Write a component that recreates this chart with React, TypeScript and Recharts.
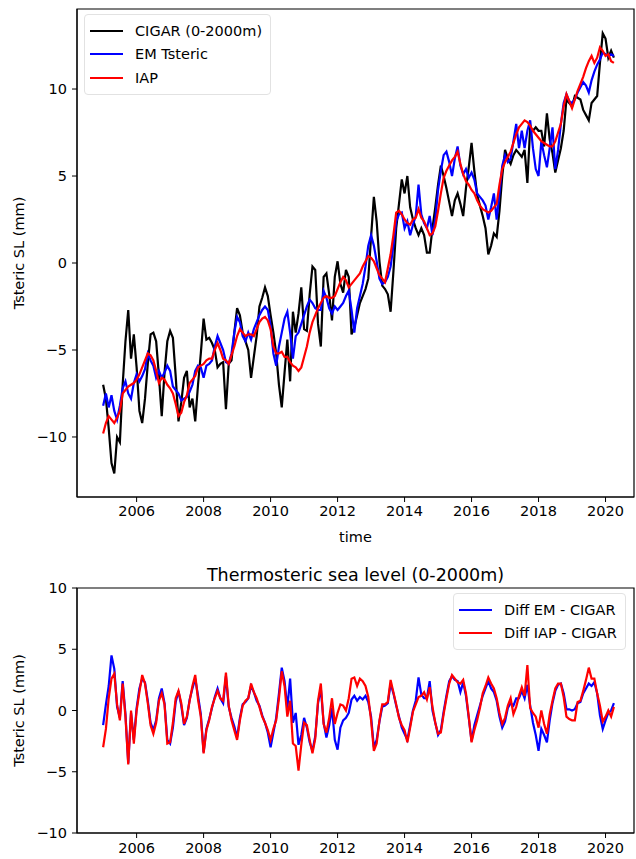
import { LineChart, Line, XAxis, YAxis, ReferenceArea, Legend } from 'recharts'

// monthly values, Jan 2005 .. Apr 2020 (one row per year)
const START_YEAR = 2005

const cigar = [
  -7.0, -7.8, -9.5, -11.5, -12.1, -10.0, -10.3, -7.0, -4.5, -2.7, -5.5, -4.1,
  -6.0, -8.5, -9.2, -7.8, -5.8, -4.1, -4.0, -4.5, -6.5, -8.8, -6.3, -4.5,
  -3.9, -4.3, -6.5, -9.1, -8.0, -6.6, -6.2, -8.3, -7.8, -9.1, -7.0, -5.2,
  -3.2, -4.4, -4.3, -4.6, -5.0, -6.0, -5.8, -5.7, -8.4, -5.8, -5.6, -4.0,
  -2.6, -3.0, -4.0, -4.5, -5.0, -6.6, -5.4, -4.2, -2.5, -2.0, -1.4, -1.9,
  -3.0, -4.0, -5.2, -7.0, -8.3, -6.3, -4.4, -6.8, -2.8, -4.0, -2.9, -1.4,
  -3.8, -3.9, -1.8, -0.2, -0.4, -3.5, -4.8, -0.8, -0.6, -1.8, -3.3, -0.8,
  0.1, -1.2, -1.7, -0.4, -0.8, -4.1, -3.7, -3.0, -2.3, -1.9, -1.5, -0.9,
  1.5, 3.8, 2.4, 0.1, -1.3, -1.5, -1.8, -2.8, -0.5, 2.0, 3.4, 4.8,
  4.0, 5.0, 3.2, 2.5, 2.0, 1.6, 2.0, 1.6, 0.6, 0.6, 2.0, 3.2,
  4.5, 5.6, 5.0, 4.3, 3.5, 2.7, 3.6, 4.0, 3.4, 2.7, 4.3, 5.5,
  6.9, 5.3, 3.9, 3.3, 2.7, 2.0, 0.5, 1.0, 1.7, 1.5, 3.0, 5.0,
  6.5, 6.0, 5.7, 6.2, 6.5, 6.3, 6.1, 6.5, 4.6, 7.8, 7.6, 7.8,
  7.6, 7.6, 6.7, 8.6, 7.1, 6.3, 5.2, 5.9, 6.6, 7.6, 9.4, 9.2,
  9.0, 9.6, 9.5, 9.4, 8.8, 8.5, 8.2, 9.2, 9.4, 9.6, 11.5, 13.2,
  12.9, 11.8, 12.2, 11.8,
]

const emTsteric = [
  -8.2, -7.5, -8.3, -7.6, -8.5, -9.0, -8.2, -7.2, -6.8, -7.5, -7.8, -6.9,
  -6.4, -6.8, -6.5, -6.1, -5.2, -5.6, -5.9, -6.6, -6.2, -6.6, -6.3, -5.9,
  -6.2, -7.1, -7.3, -7.5, -7.9, -7.8, -7.7, -7.4, -7.0, -6.2, -5.9, -6.0,
  -6.6, -5.9, -5.8, -5.6, -4.8, -4.2, -4.6, -5.0, -5.7, -5.8, -5.2, -4.0,
  -3.1, -3.4, -4.2, -4.5, -4.0, -4.4, -3.8, -3.4, -3.0, -2.7, -2.5, -2.7,
  -3.6, -5.2, -5.9, -4.8, -4.0, -3.2, -2.8, -4.0, -5.5, -4.2, -4.0, -3.5,
  -3.0, -2.5, -2.1, -2.3, -2.6, -2.7, -2.7, -1.6, -2.0, -2.6, -2.9, -2.5,
  -2.7, -2.5, -2.3, -1.9, -1.6, -2.7, -4.0, -2.6, -1.9, -1.2, -0.2, 1.0,
  1.6, 1.0, 0.1, -0.9, -1.2, -1.1, -0.8, -0.2, 1.0, 2.4, 2.8, 2.9,
  2.0, 2.4, 1.6, 2.2, 2.7, 4.5, 2.8, 2.3, 2.0, 2.7, 1.6, 2.5,
  4.2, 5.3, 6.2, 6.4, 5.8, 5.0, 6.0, 6.7, 5.6, 5.1, 5.4, 4.9,
  5.2, 4.8, 4.0, 3.8, 3.6, 3.3, 2.5, 3.2, 4.0, 2.5, 4.0, 5.6,
  6.2, 5.8, 6.0, 7.0, 8.0, 6.6, 7.6, 6.6, 7.6, 8.2, 6.6, 5.4,
  5.0, 7.0, 6.2, 5.5, 6.6, 7.8, 5.4, 6.5, 8.0, 9.2, 9.7, 9.3,
  9.2, 9.4, 9.8, 10.1, 10.4, 10.2, 9.8, 10.5, 11.0, 11.4, 11.7, 12.1,
  12.0, 11.9, 12.0, 11.9,
]

const iap = [
  -9.8, -9.2, -8.8, -9.0, -9.2, -8.9, -8.5, -7.5, -7.3, -7.1, -7.0, -6.9,
  -6.7, -6.4, -6.0, -5.6, -5.2, -5.3, -5.6, -6.2, -6.9, -6.6, -6.7, -7.0,
  -7.2, -7.5, -8.1, -8.8, -8.6, -8.0, -7.6, -6.9, -6.7, -6.5, -6.0, -5.9,
  -5.8, -5.6, -5.5, -5.5, -5.0, -4.6, -5.0, -5.5, -5.6, -5.8, -5.3, -4.8,
  -4.2, -3.8, -4.0, -4.2, -4.1, -4.1, -4.2, -3.8, -3.4, -3.2, -3.1, -3.3,
  -3.8, -4.8, -5.2, -5.2, -5.1, -5.4, -5.4, -5.7, -5.9, -6.0, -6.2, -6.0,
  -5.4, -4.8, -4.0, -3.4, -3.0, -2.6, -2.3, -2.0, -1.9, -2.0, -2.0, -1.9,
  -1.5, -1.1, -0.8, -1.0, -1.4, -1.2, -1.0, -0.8, -0.6, -0.2, 0.1, 0.4,
  0.3, 0.1, -0.3, -0.7, -0.9, -1.1, -0.3, 0.5, 1.6, 2.9, 3.0, 2.8,
  2.5, 2.3, 2.2, 2.5, 2.6, 3.1, 2.6, 2.4, 2.0, 1.6, 1.7, 2.1,
  3.0, 4.0, 4.9, 5.3, 5.6, 5.9, 6.1, 6.4, 5.7, 5.1, 4.7, 4.5,
  4.2, 4.0, 3.6, 3.3, 3.1, 3.0, 2.9, 3.0, 3.2, 3.4, 4.5, 5.4,
  5.8, 6.1, 6.4, 6.9, 7.4, 7.8, 8.0, 8.2, 8.1, 7.9, 7.6, 7.4,
  7.2, 7.0, 6.9, 6.8, 6.7, 6.7, 7.0, 7.5, 8.0, 9.0, 9.7, 9.3,
  8.9, 9.4, 9.9, 10.3, 10.7, 11.2, 11.6, 11.9, 11.5, 11.8, 12.4, 12.2,
  11.9, 12.0, 11.6, 11.5,
]

const diffEm = [
  -1.2, 0.5, 2.0, 4.5, 3.4, 0.3, -0.6, 2.4, -0.3, -4.3, -0.2, -2.4,
  0.2, 1.8, 2.6, 2.3, 0.8, -1.0, -1.6, -0.8, 1.0, 1.8, 0.6, -2.4,
  -2.7, -1.4, 0.7, 1.6, 0.4, -1.2, -0.6, 0.9, 1.8, 2.6, 1.2, -0.3,
  -3.4, -1.5, -0.7, 0.2, 1.1, 1.8, 1.0, 0.6, 2.8, 0.3, -0.6, -1.3,
  -2.2, -0.6, 0.5, 0.7, 1.0, 2.0, 1.5, 0.8, 0.4, -0.4, -1.0, -1.8,
  -3.0, -1.8, -0.6, 1.4, 3.5, 2.4, 0.2, 2.6, -1.0, -0.2, -2.8, -2.0,
  -0.6, -1.4, -2.6, -3.3, -2.1, 0.6, 1.8, -1.0, -2.2, -1.2, 0.2, -2.4,
  -3.2, -1.4, -0.8, -0.6, -0.2, 0.9, 1.2, 0.8, 1.1, 0.9, 1.2, 0.7,
  -0.5, -3.0, -2.4, -0.9, 0.3, 0.4, 0.6, 2.2, 1.4, 0.4, -0.5, -1.4,
  -1.9, -2.4, -1.2, 0.0, 0.8, 2.7, 1.3, 1.0, 1.0, 2.4, 0.0, -1.0,
  -2.0, -1.6, -0.1, 1.2, 2.4, 2.8, 2.5, 2.4, 1.5, 2.3, 1.2, -0.6,
  -2.5, -1.2, -0.4, 0.4, 1.2, 1.8, 2.4, 1.8, 1.5, 0.8, -0.5, -1.4,
  -0.9, 0.2, 0.6, 0.4, 1.0, 1.0, 1.6, 1.0, 2.1, 0.4, -1.0, -2.0,
  -3.3, -1.5, -2.0, -2.6, -0.8, 0.6, 1.6, 2.1, 2.2, 1.4, 0.1, 0.1,
  0.0, 0.1, 0.6, 0.7, 1.4, 1.8, 2.2, 2.0, 2.3, 1.4, -0.4, -1.5,
  -0.8, -0.2, 0.0, 0.6,
]

const diffIap = [
  -3.0, -1.5, 1.0, 2.6, 3.0, 0.5, -0.8, 2.2, -0.5, -4.4, 0.0, -2.7,
  0.0, 1.5, 2.9, 2.2, 0.6, -1.2, -1.9, -1.0, 0.8, 1.4, 0.5, -2.7,
  -2.6, -1.0, 1.0, 1.6, 0.6, -1.1, -0.5, 0.8, 2.0, 2.9, 0.9, -0.5,
  -3.5, -1.6, -0.8, 0.3, 1.0, 1.6, 1.0, 0.8, 3.1, 0.4, -0.8, -1.6,
  -2.4, -0.8, 0.4, 0.8, 1.0, 2.2, 1.5, 1.0, 0.3, -0.5, -1.0, -1.6,
  -2.4, -1.5, -0.8, 1.0, 3.2, 2.0, -0.5, 0.8, -2.7, -2.9, -4.9, -2.8,
  -1.0, -1.2, -2.4, -3.5, -2.3, 0.8, 2.2, -1.1, -1.8, -0.6, 1.0, -1.1,
  -0.2, 0.5, 0.4, 0.0, 1.0, 2.6, 2.7, 2.0, 2.6, 2.4, 2.0, 1.1,
  -0.8, -3.3, -2.7, -0.8, 0.5, 0.5, 0.7, 2.5, 1.5, 0.5, -0.6, -1.2,
  -1.6, -2.6, -1.4, -0.1, 0.5, 1.1, 1.2, 1.5, 0.9, 1.9, 0.3, -1.0,
  -1.9, -1.8, -0.3, 1.0, 2.2, 2.9, 2.6, 2.3, 2.2, 2.5, 1.4, -0.5,
  -2.6, -1.6, -0.8, 0.2, 1.4, 2.0, 2.7, 2.2, 1.8, 1.0, -0.2, -1.1,
  -0.6, 0.4, 1.0, -0.3, 0.3, 1.2, 1.9, 1.2, 3.7, 0.2, -0.2, -0.5,
  -1.4, 0.0, -1.1, -1.9, -0.3, 0.8, 1.8, 2.2, 2.2, 1.1, -0.5, -0.7,
  -0.8, -0.8, 0.7, 0.8, 1.6, 2.5, 3.5, 2.6, 2.6, 1.4, 0.4, -0.9,
  -0.5, 0.0, -0.5, 0.3,
]

const yearTicks = [2006, 2008, 2010, 2012, 2014, 2016, 2018, 2020]
const mmTicks = [-10, -5, 0, 5, 10]

const X_DOMAIN: [number, number] = [2004.22, 2020.85]
const TOP_Y: [number, number] = [-13.45, 14.6]
const BOTTOM_Y: [number, number] = [-10, 10]

const FONT = 'DejaVu Sans, sans-serif'
const FS = 14.5

const time = cigar.map((_, i) => START_YEAR + i / 12)
const topData = time.map((t, i) => ({ t, cigar: cigar[i], em: emTsteric[i], iap: iap[i] }))
const bottomData = time.map((t, i) => ({ t, diffEm: diffEm[i], diffIap: diffIap[i] }))

const fmtNum = (v: number) => (v < 0 ? `\u2212${Math.abs(v)}` : `${v}`)
const tickStyle = { fill: '#000', fontSize: FS, fontFamily: FONT }

const LegendBox = ({ payload }: any) => (
  <div
    style={{
      background: 'rgba(255,255,255,0.85)',
      border: '1px solid #e2e2e2',
      borderRadius: 4,
      padding: '4px 8px 4px 5px',
      fontFamily: FONT,
      fontSize: FS,
      color: '#000',
      whiteSpace: 'nowrap',
    }}
  >
    {(payload || []).map((p: any) => (
      <div key={p.value} style={{ display: 'flex', alignItems: 'center', height: 23.5 }}>
        <span style={{ display: 'inline-block', width: 33, height: 2.2, background: p.color, marginRight: 12 }} />
        <span>{p.value}</span>
      </div>
    ))}
  </div>
)

const TopPanel = () => (
  <LineChart width={636} height={550} data={topData} margin={{ top: 9, right: 2, bottom: 0, left: 0 }}>
    <XAxis
      dataKey="t"
      type="number"
      domain={X_DOMAIN}
      ticks={yearTicks}
      interval={0}
      allowDataOverflow
      height={53}
      tickSize={5}
      tickMargin={4}
      stroke="#000"
      tick={tickStyle}
      label={{ value: 'time', position: 'insideBottom', offset: 8, fill: '#000', fontSize: FS, fontFamily: FONT }}
    />
    <YAxis
      type="number"
      domain={TOP_Y}
      ticks={mmTicks}
      interval={0}
      allowDataOverflow
      width={77}
      tickSize={5}
      tickMargin={5}
      stroke="#000"
      tick={tickStyle}
      tickFormatter={fmtNum}
      label={{ value: 'Tsteric SL (mm)', angle: -90, position: 'center', dx: -20, fill: '#000', fontSize: FS, fontFamily: FONT }}
    />
    <ReferenceArea x1={X_DOMAIN[0]} x2={X_DOMAIN[1]} y1={TOP_Y[0]} y2={TOP_Y[1]} fill="none" stroke="#000" strokeWidth={1.2} ifOverflow="visible" />
    <Legend
      layout="vertical"
      align="center"
      verticalAlign="middle"
      wrapperStyle={{ left: 84, top: 14, width: 'auto', height: 'auto' }}
      content={<LegendBox />}
    />
    <Line dataKey="cigar" name="CIGAR (0-2000m)" stroke="#000000" strokeWidth={2.2} dot={false} activeDot={false} isAnimationActive={false} />
    <Line dataKey="em" name="EM Tsteric" stroke="#0000ff" strokeWidth={2.2} dot={false} activeDot={false} isAnimationActive={false} />
    <Line dataKey="iap" name="IAP" stroke="#ff0000" strokeWidth={2.2} dot={false} activeDot={false} isAnimationActive={false} />
  </LineChart>
)

const BottomPanel = () => (
  <LineChart width={636} height={299} data={bottomData} margin={{ top: 28, right: 2, bottom: 0, left: 0 }}>
    <XAxis
      dataKey="t"
      type="number"
      domain={X_DOMAIN}
      ticks={yearTicks}
      interval={0}
      allowDataOverflow
      height={26}
      tickSize={5}
      tickMargin={5}
      stroke="#000"
      tick={tickStyle}
    />
    <YAxis
      type="number"
      domain={BOTTOM_Y}
      ticks={mmTicks}
      interval={0}
      allowDataOverflow
      width={77}
      tickSize={5}
      tickMargin={5}
      stroke="#000"
      tick={tickStyle}
      tickFormatter={fmtNum}
      label={{ value: 'Tsteric SL (mm)', angle: -90, position: 'center', dx: -20, fill: '#000', fontSize: FS, fontFamily: FONT }}
    />
    <ReferenceArea x1={X_DOMAIN[0]} x2={X_DOMAIN[1]} y1={BOTTOM_Y[0]} y2={BOTTOM_Y[1]} fill="none" stroke="#000" strokeWidth={1.2} ifOverflow="visible" />
    <Legend
      layout="vertical"
      align="center"
      verticalAlign="middle"
      wrapperStyle={{ left: 453, top: 33, width: 'auto', height: 'auto' }}
      content={<LegendBox />}
    />
    <Line dataKey="diffEm" name="Diff EM - CIGAR" stroke="#0000ff" strokeWidth={2.2} dot={false} activeDot={false} isAnimationActive={false} />
    <Line dataKey="diffIap" name="Diff IAP - CIGAR" stroke="#ff0000" strokeWidth={2.2} dot={false} activeDot={false} isAnimationActive={false} />
  </LineChart>
)

export default function App() {
  return (
    <div style={{ position: 'absolute', left: 0, top: 0, width: 636, height: 859, background: '#fff', fontFamily: FONT }}>
      <div style={{ position: 'absolute', left: 0, top: 0 }}>
        <TopPanel />
      </div>
      <div
        style={{
          position: 'absolute',
          left: 77,
          top: 563,
          width: 557,
          height: 24,
          lineHeight: '24px',
          textAlign: 'center',
          fontSize: 17.5,
          color: '#000',
        }}
      >
        Thermosteric sea level (0-2000m)
      </div>
      <div style={{ position: 'absolute', left: 0, top: 560 }}>
        <BottomPanel />
      </div>
    </div>
  )
}
